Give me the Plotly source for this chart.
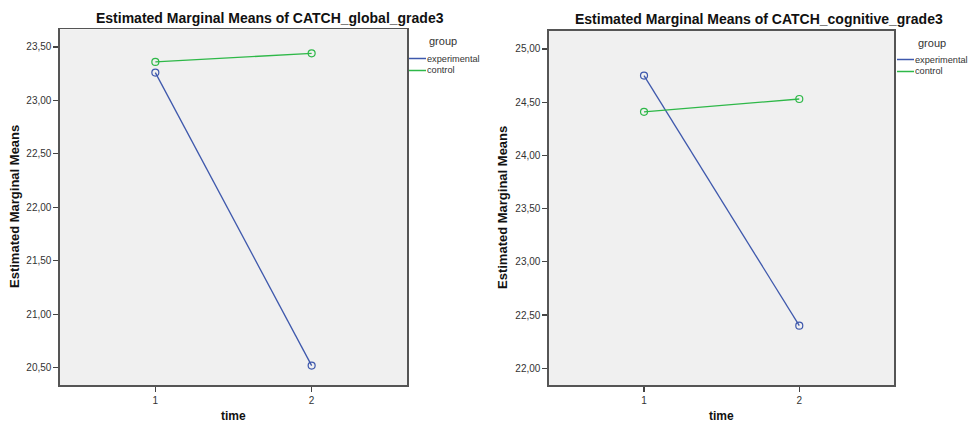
import plotly.graph_objects as go

W, H = 968, 423

time_levels = [1, 2]
groups = ["experimental", "control"]
global_experimental = [23.26, 20.52]
global_control = [23.36, 23.44]
cognitive_experimental = [24.75, 22.40]
cognitive_control = [24.41, 24.53]

global_ticks = [20.5, 21.0, 21.5, 22.0, 22.5, 23.0, 23.5]
cognitive_ticks = [22.0, 22.5, 23.0, 23.5, 24.0, 24.5, 25.0]
titles = ["Estimated Marginal Means of CATCH_global_grade3",
          "Estimated Marginal Means of CATCH_cognitive_grade3"]

BLUE = "#3E58AC"
GREEN = "#2EB848"
FONT = "Liberation Sans, Arial, sans-serif"
TXT = "#333333"


def fmt(v):
    return f"{v:.2f}".replace(".", ",")


def px(x):
    return x / W


def py(y):
    return 1 - y / H


fig = go.Figure()

panels = [
    dict(xa="x", ya="y", exp=global_experimental, ctl=global_control),
    dict(xa="x2", ya="y2", exp=cognitive_experimental, ctl=cognitive_control),
]
for p in panels:
    for name, vals, col in [(groups[0], p["exp"], BLUE), (groups[1], p["ctl"], GREEN)]:
        fig.add_trace(go.Scatter(
            x=time_levels, y=vals, name=name, mode="lines+markers",
            xaxis=p["xa"], yaxis=p["ya"], showlegend=False, hoverinfo="skip",
            line=dict(color=col, width=1.3),
            marker=dict(symbol="circle-open", size=7, color=col, line=dict(width=1.2)),
        ))

axis_common = dict(
    showline=True, mirror=True, linecolor="#555555", linewidth=1.6,
    ticks="outside", ticklen=5, tickcolor="#444444", tickwidth=1.2,
    showgrid=False, zeroline=False,
    tickfont=dict(family=FONT, size=10, color=TXT),
)

fig.update_layout(
    width=W, height=H,
    margin=dict(l=0, r=0, t=0, b=0),
    paper_bgcolor="white",
    plot_bgcolor="#F0F0F0",
    font=dict(family=FONT, color=TXT),
    hovermode=False,
    xaxis=dict(domain=[px(60), px(407)], range=[0.39, 2.61], anchor="y",
               tickvals=time_levels, ticktext=[str(t) for t in time_levels], **axis_common),
    yaxis=dict(domain=[py(385.3), py(29.3)], range=[20.336, 23.665], anchor="x",
               tickvals=global_ticks, ticktext=[fmt(v) for v in global_ticks], **axis_common),
    xaxis2=dict(domain=[px(549), px(894)], range=[0.388, 2.61], anchor="y2",
                tickvals=time_levels, ticktext=[str(t) for t in time_levels], **axis_common),
    yaxis2=dict(domain=[py(385.3), py(31)], range=[21.84, 25.169], anchor="x2",
                tickvals=cognitive_ticks, ticktext=[fmt(v) for v in cognitive_ticks], **axis_common),
)

ann = []
# titles
for cx, cy, t in [(270, 18, titles[0]), (758.6, 19, titles[1])]:
    ann.append(dict(x=px(cx), y=py(cy), xref="paper", yref="paper", text=f"<b>{t}</b>",
                    showarrow=False, font=dict(size=14, color="#111111", family=FONT),
                    xanchor="center", yanchor="middle"))
# y axis titles
for cx in [15, 503]:
    ann.append(dict(x=px(cx), y=py(207), xref="paper", yref="paper",
                    text="<b>Estimated Marginal Means</b>", textangle=-90,
                    showarrow=False, font=dict(size=13, color="#111111", family=FONT),
                    xanchor="center", yanchor="middle"))
# x axis titles
for cx in [233, 721]:
    ann.append(dict(x=px(cx), y=py(416), xref="paper", yref="paper",
                    text="<b>time</b>", showarrow=False,
                    font=dict(size=12, color="#111111", family=FONT),
                    xanchor="center", yanchor="middle"))

# legends
shapes = []
for lx, gy, y1, y2, gx in [(409, 41, 58.5, 70.5, 443), (897, 43, 59.5, 71.5, 932)]:
    ann.append(dict(x=px(gx), y=py(gy), xref="paper", yref="paper", text="group",
                    showarrow=False, font=dict(size=11, color=TXT, family=FONT),
                    xanchor="center", yanchor="middle"))
    for name, yy, col in [(groups[0], y1, BLUE), (groups[1], y2, GREEN)]:
        shapes.append(dict(type="line", xref="paper", yref="paper",
                           x0=px(lx), x1=px(lx + 17), y0=py(yy), y1=py(yy),
                           line=dict(color=col, width=1.5)))
        ann.append(dict(x=px(lx + 17), y=py(yy), xref="paper", yref="paper", text=name,
                        showarrow=False, font=dict(size=9.2, color=TXT, family=FONT),
                        xanchor="left", yanchor="middle", xshift=-1))

fig.update_layout(annotations=ann, shapes=shapes)
fig.write_html(
    "out.html",
    config={"displayModeBar": False, "staticPlot": True},
    post_script="document.body.style.margin='0';document.body.style.overflow='hidden';",
)
